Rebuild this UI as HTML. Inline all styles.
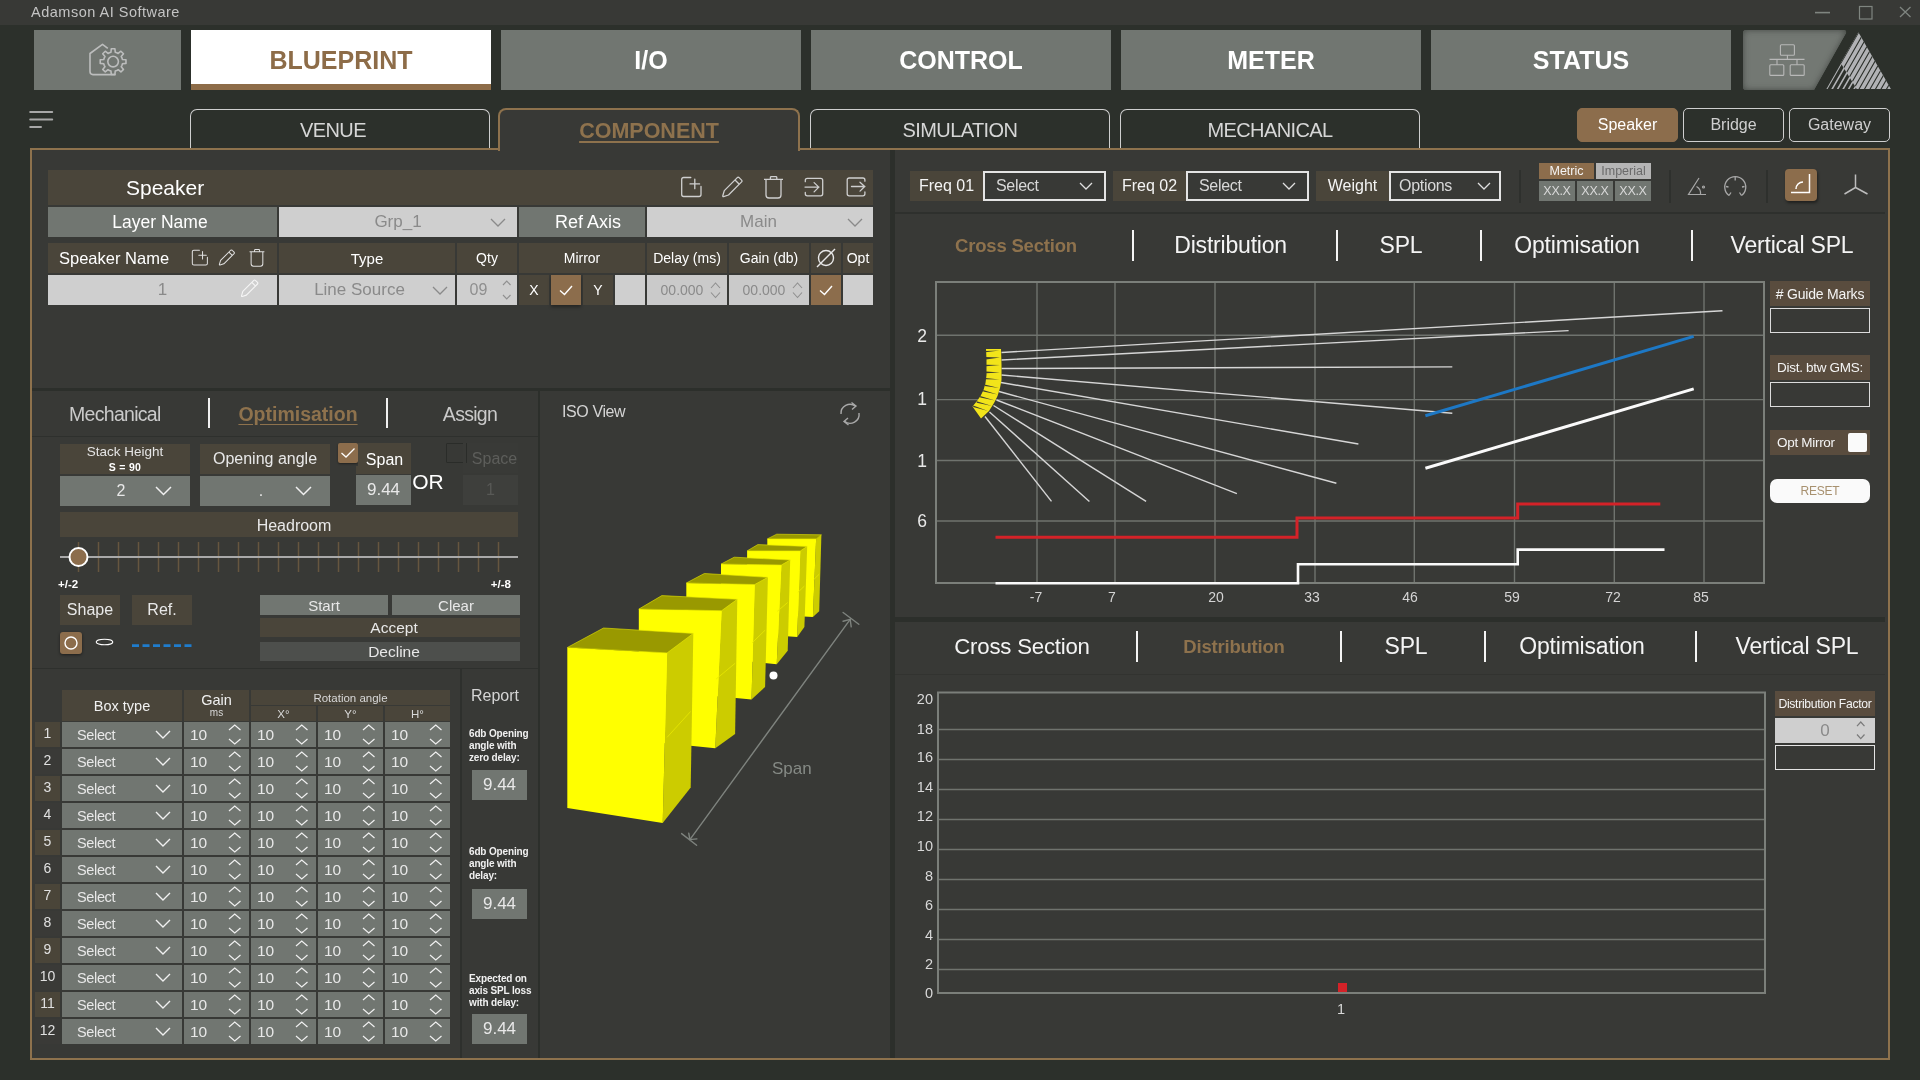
<!DOCTYPE html>
<html><head><meta charset="utf-8">
<style>
*{box-sizing:border-box;margin:0;padding:0}
html,body{width:1920px;height:1080px;overflow:hidden;will-change:transform;background:#2c302b;font-family:"Liberation Sans",Arial,sans-serif;color:#fff}
.a{position:absolute}
.c{position:absolute;display:flex;align-items:center;justify-content:center;white-space:nowrap}
.nav{background:#717671;color:#fff;font-weight:bold;font-size:25px;letter-spacing:0px;top:30px;height:60px;width:300px}
.st{top:109px;height:40px;width:300px;border:1px solid #cfcfcf;border-bottom:none;border-radius:7px 7px 0 0;color:#d6d6d6;font-size:20px;letter-spacing:-0.6px;padding-top:1px}
.pill{top:108px;height:34px;width:101px;border:1px solid #cfcfcf;border-radius:5px;color:#cfcfcf;font-size:16px}
.brn{background:#4a453a}
.gry{background:#717671}
.lgt{background:#d3d3d3}
.pnl{background:#383936}
.dk{background:#2c2f2b}
</style></head><body>
<!-- title bar -->
<div class="a" style="left:0;top:0;width:1920px;height:25px;background:#383936"></div>
<div class="a" style="left:31px;top:3.5px;font-size:14.5px;letter-spacing:0.5px;color:#c4c4c4;line-height:17px">Adamson AI Software</div>
<svg class="a" style="left:1810px;top:0" width="110" height="25">
 <path d="M5 12.6H20" stroke="#7f8580" stroke-width="1.6"/>
 <rect x="49.5" y="6.5" width="12.5" height="12.5" fill="none" stroke="#7f8580" stroke-width="1.2"/>
 <path d="M90 7L100.5 17M100.5 7L90 17" stroke="#7f8580" stroke-width="1.3"/>
</svg>

<!-- nav row -->
<div class="a" style="left:34px;top:30px;width:147px;height:60px;background:#717671"></div>
<svg class="a" style="left:80px;top:35px" width="60" height="50" viewBox="0 0 60 50">
 <g fill="none" stroke="#bcbdbd" stroke-width="1.6" stroke-linejoin="round">
  <path d="M27.8 13.4L22.5 9.3L10 18.5V36.6Q10 39.6 13 39.6H35.6"/>
  <path d="M29.43 17.73L30.94 17.25L31.29 13.73L34.91 13.73L35.26 17.25L36.77 17.73L38.19 18.46L40.92 16.22L43.48 18.78L41.24 21.51L41.97 22.93L42.45 24.44L45.97 24.79L45.97 28.41L42.45 28.76L41.97 30.27L41.24 31.69L43.48 34.42L40.92 36.98L38.19 34.74L36.77 35.47L35.26 35.95L34.91 39.47L31.29 39.47L30.94 35.95L29.43 35.47L28.01 34.74L25.28 36.98L22.72 34.42L24.96 31.69L24.23 30.27L23.75 28.76L20.23 28.41L20.23 24.79L23.75 24.44L24.23 22.93L24.96 21.51L22.72 18.78L25.28 16.22L28.01 18.46Z"/>
  <circle cx="33.1" cy="26.6" r="5.3"/>
 </g>
</svg>
<div class="c nav" style="left:191px;background:#fff;color:#8d6c48">BLUEPRINT</div>
<div class="a" style="left:191px;top:84px;width:300px;height:6px;background:#8d6c48"></div>
<div class="c nav" style="left:501px">I/O</div>
<div class="c nav" style="left:811px">CONTROL</div>
<div class="c nav" style="left:1121px">METER</div>
<div class="c nav" style="left:1431px">STATUS</div>
<!-- network button -->
<svg class="a" style="left:1740px;top:28px" width="160" height="66">
 <defs>
  <filter id="ins" x="-10%" y="-10%" width="120%" height="120%">
   <feGaussianBlur in="SourceAlpha" stdDeviation="3.5" result="b"/>
   <feComposite in="SourceAlpha" in2="b" operator="arithmetic" k2="1" k3="-1" result="sh"/>
   <feFlood flood-color="#2e312e" flood-opacity="0.9"/>
   <feComposite in2="sh" operator="in"/>
   <feComposite in2="SourceGraphic" operator="over"/>
  </filter>
  <clipPath id="cA"><path d="M118.4 4.2L150.9 61.1L116.7 61.1L100.7 35.1Z"/></clipPath>
  <clipPath id="cB"><path d="M100.7 35.1L116.7 61.1L85.8 61.1Z"/></clipPath>
 </defs>
 <path d="M6 2H103Q107.5 2 105.5 6L74 62H6Q3 62 3 59V5Q3 2 6 2Z" fill="#737873" filter="url(#ins)"/>
 <g fill="none" stroke="#b8b8b8" stroke-width="1.1">
  <rect x="40.4" y="16.7" width="14" height="10.6" rx="1"/>
  <path d="M47.4 27.3V31.4M29.5 31.4H64.5M37 31.4V36.8M57 31.4V36.8"/>
  <rect x="29.8" y="36.8" width="14" height="10.6" rx="1"/>
  <rect x="50.2" y="36.8" width="14" height="10.6" rx="1"/>
 </g>
 <path d="M118.4 4.2L150.9 61.1L116.7 61.1L100.7 35.1Z" fill="#b1b2b5"/>
 <path d="M85.80 61.5L124.92 -6.78M91.30 61.5L130.42 -6.78M96.80 61.5L135.92 -6.78M102.30 61.5L141.42 -6.78M107.80 61.5L146.92 -6.78M113.30 61.5L152.42 -6.78M118.80 61.5L157.92 -6.78M124.30 61.5L163.42 -6.78M129.80 61.5L168.92 -6.78M135.30 61.5L174.42 -6.78M140.80 61.5L179.92 -6.78M146.30 61.5L185.42 -6.78M151.80 61.5L190.92 -6.78" clip-path="url(#cA)" stroke="#2c302b" stroke-width="1.1"/>
 <path d="M85.80 61.5L124.92 -6.78M91.30 61.5L130.42 -6.78M96.80 61.5L135.92 -6.78M102.30 61.5L141.42 -6.78M107.80 61.5L146.92 -6.78M113.30 61.5L152.42 -6.78M118.80 61.5L157.92 -6.78M124.30 61.5L163.42 -6.78M129.80 61.5L168.92 -6.78M135.30 61.5L174.42 -6.78M140.80 61.5L179.92 -6.78M146.30 61.5L185.42 -6.78M151.80 61.5L190.92 -6.78" clip-path="url(#cB)" stroke="#b1b2b5" stroke-width="1.6" transform="translate(0.6,0)"/>
</svg>

<!-- hamburger -->
<svg class="a" style="left:28px;top:108px" width="28" height="24">
 <path d="M2.2 4H24.2M2.2 11.5H24.2M2.2 19H13" stroke="#a8a8a8" stroke-width="2" stroke-linecap="round"/>
</svg>

<!-- sub tabs -->
<div class="c st" style="left:190px;padding-right:14px">VENUE</div>
<div class="c st" style="left:810px">SIMULATION</div>
<div class="c st" style="left:1120px">MECHANICAL</div>
<div class="c pill" style="left:1577px;background:#8c6d4c;border-color:#8c6d4c;color:#fff">Speaker</div>
<div class="c pill" style="left:1683px">Bridge</div>
<div class="c pill" style="left:1789px">Gateway</div>

<!-- main panel -->
<div class="a" style="left:30px;top:148px;width:1860px;height:912px;border:2px solid #8e724d;background:#383936"></div>
<!-- active COMPONENT tab -->
<div class="c" style="left:498px;top:108px;width:302px;height:43px;border:2px solid #8e724d;border-bottom:none;border-radius:8px 8px 0 0;background:#383936;color:#8e724d;font-weight:bold;font-size:21.5px;text-decoration:underline;text-underline-offset:3px;padding-top:2px">COMPONENT</div>

<!-- dividers -->
<div class="a dk" style="left:890px;top:150px;width:5px;height:908px"></div>
<div class="a dk" style="left:32px;top:388px;width:858px;height:3px"></div>
<div class="a dk" style="left:538px;top:391px;width:2px;height:667px"></div>
<div class="a dk" style="left:895px;top:617px;width:990px;height:5px"></div>



<div class="a" style="left:48px;top:170px;width:825px;height:35px;background:#4a453a;"></div>
<div class="c" style="left:126px;top:170px;width:174px;height:35px;font-size:21px;color:#fff;font-weight:normal;justify-content:flex-start;">Speaker</div>
<svg class="a" style="left:680px;top:176px;" width="24.00" height="24.00" viewBox="0 0 24 24"><g fill="none" stroke="#cfcfcf" stroke-width="1.3" stroke-linejoin="round" stroke-linecap="round"><path d="M10.8 1.5H3.7Q1.7 1.5 1.7 3.5V18.5Q1.7 20.5 3.7 20.5H19Q21 20.5 21 18.5V10.5"/><path d="M14.8 3.1V12.7M10 7.9H19.6"/></g></svg>
<svg class="a" style="left:721px;top:176px;" width="24.00" height="24.00" viewBox="0 0 24 24"><g fill="none" stroke="#cfcfcf" stroke-width="1.3" stroke-linejoin="round"><path d="M16.3 1.6Q17.2 0.8 18.1 1.6L20.6 4.1Q21.4 5 20.6 5.9L7.5 19L2.6 20.6Q1.6 20.8 1.8 19.8L3.3 14.6Z"/><path d="M14 4L18.3 8.3"/></g></svg>
<svg class="a" style="left:762px;top:176px;" width="24.00" height="24.00" viewBox="0 0 24 24"><g fill="none" stroke="#cfcfcf" stroke-width="1.3" stroke-linejoin="round"><path d="M2 3.4H21M8.4 3.4V1.5Q8.4 0.6 9.4 0.6H13.8Q14.8 0.6 14.8 1.5V3.4M4 3.4V19Q4 22 7 22H16Q19 22 19 19V3.4"/></g></svg>
<svg class="a" style="left:803px;top:176px;" width="24.00" height="24.00" viewBox="0 0 24 24"><g fill="none" stroke="#cfcfcf" stroke-width="1.3" stroke-linejoin="round" stroke-linecap="round"><path d="M2.3 5.7V4.3Q2.3 2.3 4.3 2.3H17.7Q19.7 2.3 19.7 4.3V17.8Q19.7 19.8 17.7 19.8H4.3Q2.3 19.8 2.3 17.8V16.4"/><path d="M2 11.1H16M11.1 6.6L15.8 11.1L11.1 15.9"/></g></svg>
<svg class="a" style="left:845px;top:176px;" width="24.00" height="24.00" viewBox="0 0 24 24"><g fill="none" stroke="#cfcfcf" stroke-width="1.3" stroke-linejoin="round" stroke-linecap="round"><path d="M19.9 5.2V4Q19.9 2 17.9 2H4.2Q2.2 2 2.2 4V17.8Q2.2 19.8 4.2 19.8H17.9Q19.9 19.8 19.9 17.8V15.9"/><path d="M6.5 10.5H19.9M15 6.3L19.7 10.5L15 15.1"/></g></svg>
<div class="a" style="left:48px;top:207px;width:229px;height:30px;background:#717671;"></div>
<div class="c" style="left:48px;top:207px;width:224px;height:30px;font-size:17.5px;color:#fff;font-weight:normal;justify-content:center;">Layer Name</div>
<div class="a" style="left:279px;top:207px;width:238px;height:30px;background:#cfcfcf;"></div>
<div class="c" style="left:279px;top:207px;width:238px;height:30px;font-size:17px;color:#8a8a8a;font-weight:normal;justify-content:center;">Grp_1</div>
<svg class="a" style="left:489.0px;top:216.5px;" width="18.00" height="11.00" viewBox="0 0 18 11.0"><path d="M2 2L9.0 9.0L16 2" fill="none" stroke="#8a8a8a" stroke-width="1.3"/></svg>
<div class="a" style="left:519px;top:207px;width:126px;height:30px;background:#717671;"></div>
<div class="c" style="left:525px;top:207px;width:126px;height:30px;font-size:18px;color:#fff;font-weight:normal;justify-content:center;">Ref Axis</div>
<div class="a" style="left:647px;top:207px;width:226px;height:30px;background:#cfcfcf;"></div>
<div class="c" style="left:647px;top:207px;width:226px;height:30px;font-size:17px;color:#8a8a8a;font-weight:normal;justify-content:center;padding-right:3px">Main</div>
<svg class="a" style="left:846.0px;top:216.5px;" width="18.00" height="11.00" viewBox="0 0 18 11.0"><path d="M2 2L9.0 9.0L16 2" fill="none" stroke="#8a8a8a" stroke-width="1.3"/></svg>
<div class="a" style="left:48px;top:243px;width:229px;height:30px;background:#4a453a;"></div>
<div class="a" style="left:279px;top:243px;width:176px;height:30px;background:#4a453a;"></div>
<div class="a" style="left:457px;top:243px;width:60px;height:30px;background:#4a453a;"></div>
<div class="a" style="left:519px;top:243px;width:126px;height:30px;background:#4a453a;"></div>
<div class="a" style="left:647px;top:243px;width:80px;height:30px;background:#4a453a;"></div>
<div class="a" style="left:729px;top:243px;width:80px;height:30px;background:#4a453a;"></div>
<div class="a" style="left:811px;top:243px;width:30px;height:30px;background:#4a453a;"></div>
<div class="a" style="left:843px;top:243px;width:30px;height:30px;background:#4a453a;"></div>
<div class="c" style="left:59px;top:243px;width:141px;height:30px;font-size:16.5px;color:#fff;font-weight:normal;justify-content:flex-start;">Speaker Name</div>
<svg class="a" style="left:190.5px;top:249px;" width="18.72" height="18.72" viewBox="0 0 24 24"><g fill="none" stroke="#e0e0e0" stroke-width="1.3" stroke-linejoin="round" stroke-linecap="round"><path d="M10.8 1.5H3.7Q1.7 1.5 1.7 3.5V18.5Q1.7 20.5 3.7 20.5H19Q21 20.5 21 18.5V10.5"/><path d="M14.8 3.1V12.7M10 7.9H19.6"/></g></svg>
<svg class="a" style="left:218.3px;top:249px;" width="18.72" height="18.72" viewBox="0 0 24 24"><g fill="none" stroke="#e0e0e0" stroke-width="1.3" stroke-linejoin="round"><path d="M16.3 1.6Q17.2 0.8 18.1 1.6L20.6 4.1Q21.4 5 20.6 5.9L7.5 19L2.6 20.6Q1.6 20.8 1.8 19.8L3.3 14.6Z"/><path d="M14 4L18.3 8.3"/></g></svg>
<svg class="a" style="left:248.3px;top:249.2px;" width="18.72" height="18.72" viewBox="0 0 24 24"><g fill="none" stroke="#e0e0e0" stroke-width="1.3" stroke-linejoin="round"><path d="M2 3.4H21M8.4 3.4V1.5Q8.4 0.6 9.4 0.6H13.8Q14.8 0.6 14.8 1.5V3.4M4 3.4V19Q4 22 7 22H16Q19 22 19 19V3.4"/></g></svg>
<div class="c" style="left:279px;top:243px;width:176px;height:30px;font-size:15px;color:#fff;font-weight:normal;justify-content:center;">Type</div>
<div class="c" style="left:457px;top:243px;width:60px;height:30px;font-size:14px;color:#fff;font-weight:normal;justify-content:center;">Qty</div>
<div class="c" style="left:519px;top:243px;width:126px;height:30px;font-size:14px;color:#fff;font-weight:normal;justify-content:center;">Mirror</div>
<div class="c" style="left:647px;top:243px;width:80px;height:30px;font-size:14px;color:#fff;font-weight:normal;justify-content:center;">Delay (ms)</div>
<div class="c" style="left:729px;top:243px;width:80px;height:30px;font-size:14px;color:#fff;font-weight:normal;justify-content:center;">Gain (db)</div>
<svg class="a" style="left:815px;top:247px;" width="22.00" height="22.00" viewBox="0 0 22 22"><g fill="none" stroke="#e8e8e8" stroke-width="1.4"><circle cx="11" cy="11" r="7.5"/><path d="M2 20L20 2"/></g></svg>
<div class="c" style="left:843px;top:243px;width:30px;height:30px;font-size:14px;color:#fff;font-weight:normal;justify-content:center;">Opt</div>
<div class="a" style="left:48px;top:275px;width:229px;height:30px;background:#cfcfcf;"></div>
<div class="c" style="left:48px;top:275px;width:229px;height:30px;font-size:17px;color:#8a8a8a;font-weight:normal;justify-content:center;">1</div>
<svg class="a" style="left:240px;top:279px;" width="20.40" height="20.40" viewBox="0 0 24 24"><g fill="none" stroke="#f6f6f6" stroke-width="1.3" stroke-linejoin="round"><path d="M16.3 1.6Q17.2 0.8 18.1 1.6L20.6 4.1Q21.4 5 20.6 5.9L7.5 19L2.6 20.6Q1.6 20.8 1.8 19.8L3.3 14.6Z"/><path d="M14 4L18.3 8.3"/></g></svg>
<div class="a" style="left:279px;top:275px;width:176px;height:30px;background:#cfcfcf;"></div>
<div class="c" style="left:279px;top:275px;width:161px;height:30px;font-size:17px;color:#8a8a8a;font-weight:normal;justify-content:center;">Line Source</div>
<svg class="a" style="left:431.0px;top:284.5px;" width="18.00" height="11.00" viewBox="0 0 18 11.0"><path d="M2 2L9.0 9.0L16 2" fill="none" stroke="#8a8a8a" stroke-width="1.3"/></svg>
<div class="a" style="left:457px;top:275px;width:60px;height:30px;background:#cfcfcf;"></div>
<div class="c" style="left:457px;top:275px;width:43px;height:30px;font-size:16px;color:#8f8f8f;font-weight:normal;justify-content:center;">09</div>
<svg class="a" style="left:500.65px;top:279.0px;" width="11.50" height="22.00" viewBox="0 0 11.5 22"><path d="M2 6L5.75 2L9.5 6M2 16L5.75 20L9.5 16" fill="none" stroke="#8f8f8f" stroke-width="1.1"/></svg>
<div class="a" style="left:519px;top:275px;width:30px;height:30px;background:#4a453a;"></div>
<div class="c" style="left:519px;top:275px;width:30px;height:30px;font-size:14px;color:#fff;font-weight:normal;justify-content:center;">X</div>
<div class="a" style="left:551px;top:275px;width:30px;height:30px;background:#8c6d4c;box-shadow:0 2px 3px rgba(0,0,0,0.35)"></div>
<svg class="a" style="left:556px;top:281px;" width="20.00" height="18.00" viewBox="0 0 20 18"><path d="M4 9.5L8.5 13.5L16 5" fill="none" stroke="#fff" stroke-width="1.4"/></svg>
<div class="a" style="left:583px;top:275px;width:30px;height:30px;background:#4a453a;"></div>
<div class="c" style="left:583px;top:275px;width:30px;height:30px;font-size:14px;color:#fff;font-weight:normal;justify-content:center;">Y</div>
<div class="a" style="left:615px;top:275px;width:30px;height:30px;background:#cfcfcf;"></div>
<div class="a" style="left:647px;top:275px;width:80px;height:30px;background:#cacaca;"></div>
<div class="c" style="left:652px;top:275px;width:60px;height:30px;font-size:14px;color:#8a8a8a;font-weight:normal;justify-content:center;">00.000</div>
<svg class="a" style="left:709.3px;top:280.75px;" width="13.00" height="18.50" viewBox="0 0 13 18.5"><path d="M2 7L6.5 2L11 7M2 11.5L6.5 16.5L11 11.5" fill="none" stroke="#8f8f8f" stroke-width="1.1"/></svg>
<div class="a" style="left:729px;top:275px;width:80px;height:30px;background:#cacaca;"></div>
<div class="c" style="left:734px;top:275px;width:60px;height:30px;font-size:14px;color:#8a8a8a;font-weight:normal;justify-content:center;">00.000</div>
<svg class="a" style="left:791.1px;top:280.75px;" width="13.00" height="18.50" viewBox="0 0 13 18.5"><path d="M2 7L6.5 2L11 7M2 11.5L6.5 16.5L11 11.5" fill="none" stroke="#8f8f8f" stroke-width="1.1"/></svg>
<div class="a" style="left:811px;top:275px;width:30px;height:30px;background:#8c6d4c;"></div>
<svg class="a" style="left:816px;top:281px;" width="20.00" height="18.00" viewBox="0 0 20 18"><path d="M4 9.5L8.5 13.5L16 5" fill="none" stroke="#fff" stroke-width="1.4"/></svg>
<div class="a" style="left:843px;top:275px;width:30px;height:30px;background:#cfcfcf;"></div>
<div class="a" style="left:32px;top:436px;width:506px;height:1px;background:#2e302d;"></div>
<div class="c" style="left:60px;top:391px;width:110px;height:45px;font-size:19.5px;color:#cacaca;font-weight:normal;justify-content:flex-start;padding-left:9px;padding-top:2px;letter-spacing:-0.7px">Mechanical</div>
<div class="a" style="left:208px;top:398px;width:2px;height:30px;background:#f0f0f0;"></div>
<div class="c" style="left:210px;top:391px;width:176px;height:45px;font-size:19.5px;color:#8e724d;font-weight:bold;justify-content:center;text-decoration:underline;text-underline-offset:3px;padding-top:2px">Optimisation</div>
<div class="a" style="left:386px;top:398px;width:2px;height:30px;background:#f0f0f0;"></div>
<div class="c" style="left:395px;top:391px;width:150px;height:45px;font-size:19.5px;color:#cacaca;font-weight:normal;justify-content:center;padding-top:2px;letter-spacing:-0.7px">Assign</div>
<div class="a" style="left:60px;top:444px;width:130px;height:30px;background:#4a453a;"></div>
<div class="a" style="left:60px;top:445px;width:130px;text-align:center;font-size:13.5px;line-height:14px;color:#e4e4e4">Stack Height</div>
<div class="a" style="left:60px;top:462px;width:130px;text-align:center;letter-spacing:0.3px;font-size:10.5px;line-height:10px;color:#fff;font-weight:bold">S = 90</div>
<div class="a" style="left:60px;top:476px;width:130px;height:30px;background:#717671;"></div>
<div class="c" style="left:60px;top:476px;width:122px;height:30px;font-size:16px;color:#e8e8e8;font-weight:normal;justify-content:center;">2</div>
<svg class="a" style="left:153.5px;top:485.25px;" width="19.00" height="11.50" viewBox="0 0 19 11.5"><path d="M2 2L9.5 9.5L17 2" fill="none" stroke="#f0f0f0" stroke-width="1.5"/></svg>
<div class="a" style="left:200px;top:444px;width:130px;height:30px;background:#4a453a;"></div>
<div class="c" style="left:200px;top:444px;width:130px;height:30px;font-size:16px;color:#e8e8e8;font-weight:normal;justify-content:center;">Opening angle</div>
<div class="a" style="left:200px;top:476px;width:130px;height:30px;background:#717671;"></div>
<div class="c" style="left:200px;top:476px;width:122px;height:30px;font-size:16px;color:#e8e8e8;font-weight:normal;justify-content:center;">.</div>
<svg class="a" style="left:293.5px;top:485.25px;" width="19.00" height="11.50" viewBox="0 0 19 11.5"><path d="M2 2L9.5 9.5L17 2" fill="none" stroke="#f0f0f0" stroke-width="1.5"/></svg>
<div class="a" style="left:338px;top:443px;width:20px;height:20px;background:#8c6d4c;border-radius:2px;box-shadow:0 1px 2px rgba(0,0,0,0.4)"></div>
<svg class="a" style="left:338px;top:443px;" width="20.00" height="20.00" viewBox="0 0 20 20"><path d="M3.5 10L8 14L16.5 5.5" fill="none" stroke="#fff" stroke-width="1.3"/></svg>
<div class="a" style="left:356px;top:466px;width:55px;height:8px;background:#4a453a;"></div>
<div class="a" style="left:358px;top:443px;width:53px;height:31px;background:#4a453a;"></div>
<div class="c" style="left:358px;top:443px;width:53px;height:31px;font-size:16px;color:#fff;font-weight:normal;justify-content:center;padding-top:2px">Span</div>
<div class="a" style="left:356px;top:475px;width:55px;height:30px;background:#717671;"></div>
<div class="c" style="left:356px;top:475px;width:55px;height:30px;font-size:17px;color:#e8e8e8;font-weight:normal;justify-content:center;">9.44</div>
<div class="c" style="left:412px;top:474px;width:32px;height:16px;font-size:21px;color:#fff;font-weight:normal;justify-content:center;">OR</div>
<div class="a" style="left:446px;top:443px;width:20px;height:20px;background:none;border:1.3px solid #2a2c29;border-radius:1px"></div>
<div class="a" style="left:463px;top:443px;width:55px;height:30px;background:#393a37;"></div>
<div class="c" style="left:467px;top:443px;width:55px;height:30px;font-size:16px;color:#5d5e5b;font-weight:normal;justify-content:center;padding-top:2px">Space</div>
<div class="a" style="left:466px;top:443px;width:1px;height:20px;background:#2a2c29;"></div>
<div class="a" style="left:463px;top:475px;width:55px;height:30px;background:#3e3f3c;"></div>
<div class="c" style="left:463px;top:475px;width:55px;height:30px;font-size:16px;color:#585956;font-weight:normal;justify-content:center;">1</div>
<div class="a" style="left:60px;top:512px;width:458px;height:25px;background:#4a453a;"></div>
<div class="c" style="left:65px;top:513px;width:458px;height:25px;font-size:16px;color:#e8e8e8;font-weight:normal;justify-content:center;">Headroom</div>
<svg class="a" style="left:60px;top:542px;" width="460.00" height="30.00" viewBox="0 0 460 30"><g stroke="#66563f" stroke-width="1.5"><path d="M18.5 0V30"/><path d="M38.5 0V30"/><path d="M58.5 0V30"/><path d="M78.5 0V30"/><path d="M98.5 0V30"/><path d="M118.5 0V30"/><path d="M138.5 0V30"/><path d="M158.5 0V30"/><path d="M178.5 0V30"/><path d="M198.5 0V30"/><path d="M218.5 0V30"/><path d="M238.5 0V30"/><path d="M258.5 0V30"/><path d="M278.5 0V30"/><path d="M298.5 0V30"/><path d="M318.5 0V30"/><path d="M338.5 0V30"/><path d="M358.5 0V30"/><path d="M378.5 0V30"/><path d="M398.5 0V30"/><path d="M418.5 0V30"/><path d="M438.5 0V30"/></g></svg>
<div class="a" style="left:60px;top:556px;width:458px;height:2px;background:#a9a9a9;"></div>
<svg class="a" style="left:67px;top:546px;" width="24.00" height="24.00" viewBox="0 0 24 24"><circle cx="11.5" cy="11" r="9" fill="#8c6d4c" stroke="#fff" stroke-width="2"/></svg>
<div class="a" style="left:58px;top:578px;font-size:11.5px;font-weight:bold;line-height:12px;color:#fff">+/-2</div>
<div class="a" style="left:476px;top:578px;width:35px;text-align:right;font-size:11.5px;font-weight:bold;line-height:12px;color:#fff">+/-8</div>
<div class="a" style="left:60px;top:595px;width:60px;height:30px;background:#4a453a;"></div>
<div class="c" style="left:60px;top:595px;width:60px;height:30px;font-size:16px;color:#e8e8e8;font-weight:normal;justify-content:center;">Shape</div>
<div class="a" style="left:132px;top:595px;width:60px;height:30px;background:#4a453a;"></div>
<div class="c" style="left:132px;top:595px;width:60px;height:30px;font-size:16px;color:#e8e8e8;font-weight:normal;justify-content:center;">Ref.</div>
<div class="a" style="left:60px;top:632px;width:22px;height:22px;background:#8c6d4c;border-radius:3px;box-shadow:0 1px 3px rgba(0,0,0,0.5)"></div>
<svg class="a" style="left:60px;top:632px;" width="22.00" height="22.00" viewBox="0 0 22 22"><circle cx="11" cy="11" r="6" fill="none" stroke="#fff" stroke-width="1.4"/></svg>
<svg class="a" style="left:94px;top:637px;" width="22.00" height="10.00" viewBox="0 0 22 10"><ellipse cx="10.5" cy="5" rx="8.3" ry="2.8" fill="none" stroke="#fff" stroke-width="1.1"/></svg>
<svg class="a" style="left:131px;top:643px;" width="62.00" height="6.00" viewBox="0 0 62 6"><path d="M1 2.6H61" stroke="#1f7ccc" stroke-width="2.6" stroke-dasharray="7 3.5"/></svg>
<div class="a" style="left:260px;top:595px;width:128px;height:20px;background:#717671;"></div>
<div class="c" style="left:260px;top:595px;width:128px;height:20px;font-size:15px;color:#e8e8e8;font-weight:normal;justify-content:center;">Start</div>
<div class="a" style="left:392px;top:595px;width:128px;height:20px;background:#717671;"></div>
<div class="c" style="left:392px;top:595px;width:128px;height:20px;font-size:15px;color:#e8e8e8;font-weight:normal;justify-content:center;">Clear</div>
<div class="a" style="left:260px;top:618px;width:260px;height:19px;background:#4a453a;"></div>
<div class="c" style="left:264px;top:618px;width:260px;height:19px;font-size:15.5px;color:#e8e8e8;font-weight:normal;justify-content:center;">Accept</div>
<div class="a" style="left:260px;top:642px;width:260px;height:19px;background:#4d4f4c;"></div>
<div class="c" style="left:264px;top:642px;width:260px;height:19px;font-size:15.5px;color:#e8e8e8;font-weight:normal;justify-content:center;">Decline</div>
<div class="a" style="left:32px;top:668px;width:506px;height:1px;background:#2e302d;"></div>
<div class="a" style="left:460px;top:669px;width:2px;height:389px;background:#2e302d;"></div>
<div class="a" style="left:62px;top:690px;width:120px;height:31px;background:#4a453a;"></div>
<div class="c" style="left:62px;top:690px;width:120px;height:31px;font-size:14.5px;color:#f0f0f0;font-weight:normal;justify-content:center;">Box type</div>
<div class="a" style="left:184px;top:690px;width:65px;height:31px;background:#4a453a;"></div>
<div class="a" style="left:184px;top:692px;width:65px;text-align:center;font-size:14.5px;line-height:16px;color:#f0f0f0">Gain</div>
<div class="a" style="left:184px;top:707px;width:65px;text-align:center;font-size:10px;line-height:11px;color:#d8d8d8">ms</div>
<div class="a" style="left:251px;top:690px;width:199px;height:15px;background:#4a453a;"></div>
<div class="c" style="left:251px;top:690px;width:199px;height:15px;font-size:11.5px;color:#d8d8d8;font-weight:normal;justify-content:center;">Rotation angle</div>
<div class="a" style="left:251px;top:706px;width:65px;height:15px;background:#4a453a;"></div>
<div class="c" style="left:251px;top:706px;width:65px;height:15px;font-size:11.5px;color:#d8d8d8;font-weight:normal;justify-content:center;">X°</div>
<div class="a" style="left:318px;top:706px;width:65px;height:15px;background:#4a453a;"></div>
<div class="c" style="left:318px;top:706px;width:65px;height:15px;font-size:11.5px;color:#d8d8d8;font-weight:normal;justify-content:center;">Y°</div>
<div class="a" style="left:385px;top:706px;width:65px;height:15px;background:#4a453a;"></div>
<div class="c" style="left:385px;top:706px;width:65px;height:15px;font-size:11.5px;color:#d8d8d8;font-weight:normal;justify-content:center;">H°</div>
<div class="a" style="left:35px;top:722px;width:25px;height:25px;background:#4a4539;"></div>
<div class="c" style="left:35px;top:722px;width:25px;height:21px;font-size:14px;color:#e0e0e0;font-weight:normal;justify-content:center;">1</div>
<div class="a" style="left:62px;top:722px;width:120px;height:25px;background:#717671;"></div>
<div class="c" style="left:77px;top:722px;width:83px;height:25px;font-size:14.5px;color:#e8e8e8;font-weight:normal;justify-content:flex-start;letter-spacing:-0.35px">Select</div>
<svg class="a" style="left:154.0px;top:729.0px;" width="18.00" height="11.00" viewBox="0 0 18 11.0"><path d="M2 2L9.0 9.0L16 2" fill="none" stroke="#f0f0f0" stroke-width="1.4"/></svg>
<div class="a" style="left:184px;top:722px;width:65px;height:25px;background:#717671;"></div>
<div class="c" style="left:190px;top:722px;width:34px;height:25px;font-size:15.5px;color:#e8e8e8;font-weight:normal;justify-content:flex-start;">10</div>
<svg class="a" style="left:227.25px;top:723.0px;" width="15.50" height="23.00" viewBox="0 0 15.5 23"><path d="M2 7L7.75 2L13.5 7M2 16L7.75 21L13.5 16" fill="none" stroke="#f0f0f0" stroke-width="1.2"/></svg>
<div class="a" style="left:251px;top:722px;width:65px;height:25px;background:#717671;"></div>
<div class="c" style="left:257px;top:722px;width:34px;height:25px;font-size:15.5px;color:#e8e8e8;font-weight:normal;justify-content:flex-start;">10</div>
<svg class="a" style="left:294.25px;top:723.0px;" width="15.50" height="23.00" viewBox="0 0 15.5 23"><path d="M2 7L7.75 2L13.5 7M2 16L7.75 21L13.5 16" fill="none" stroke="#f0f0f0" stroke-width="1.2"/></svg>
<div class="a" style="left:318px;top:722px;width:65px;height:25px;background:#717671;"></div>
<div class="c" style="left:324px;top:722px;width:34px;height:25px;font-size:15.5px;color:#e8e8e8;font-weight:normal;justify-content:flex-start;">10</div>
<svg class="a" style="left:361.25px;top:723.0px;" width="15.50" height="23.00" viewBox="0 0 15.5 23"><path d="M2 7L7.75 2L13.5 7M2 16L7.75 21L13.5 16" fill="none" stroke="#f0f0f0" stroke-width="1.2"/></svg>
<div class="a" style="left:385px;top:722px;width:65px;height:25px;background:#717671;"></div>
<div class="c" style="left:391px;top:722px;width:34px;height:25px;font-size:15.5px;color:#e8e8e8;font-weight:normal;justify-content:flex-start;">10</div>
<svg class="a" style="left:428.25px;top:723.0px;" width="15.50" height="23.00" viewBox="0 0 15.5 23"><path d="M2 7L7.75 2L13.5 7M2 16L7.75 21L13.5 16" fill="none" stroke="#f0f0f0" stroke-width="1.2"/></svg>
<div class="a" style="left:35px;top:749px;width:25px;height:25px;background:#3a3a37;"></div>
<div class="c" style="left:35px;top:749px;width:25px;height:21px;font-size:14px;color:#e0e0e0;font-weight:normal;justify-content:center;">2</div>
<div class="a" style="left:62px;top:749px;width:120px;height:25px;background:#717671;"></div>
<div class="c" style="left:77px;top:749px;width:83px;height:25px;font-size:14.5px;color:#e8e8e8;font-weight:normal;justify-content:flex-start;letter-spacing:-0.35px">Select</div>
<svg class="a" style="left:154.0px;top:756.0px;" width="18.00" height="11.00" viewBox="0 0 18 11.0"><path d="M2 2L9.0 9.0L16 2" fill="none" stroke="#f0f0f0" stroke-width="1.4"/></svg>
<div class="a" style="left:184px;top:749px;width:65px;height:25px;background:#717671;"></div>
<div class="c" style="left:190px;top:749px;width:34px;height:25px;font-size:15.5px;color:#e8e8e8;font-weight:normal;justify-content:flex-start;">10</div>
<svg class="a" style="left:227.25px;top:750.0px;" width="15.50" height="23.00" viewBox="0 0 15.5 23"><path d="M2 7L7.75 2L13.5 7M2 16L7.75 21L13.5 16" fill="none" stroke="#f0f0f0" stroke-width="1.2"/></svg>
<div class="a" style="left:251px;top:749px;width:65px;height:25px;background:#717671;"></div>
<div class="c" style="left:257px;top:749px;width:34px;height:25px;font-size:15.5px;color:#e8e8e8;font-weight:normal;justify-content:flex-start;">10</div>
<svg class="a" style="left:294.25px;top:750.0px;" width="15.50" height="23.00" viewBox="0 0 15.5 23"><path d="M2 7L7.75 2L13.5 7M2 16L7.75 21L13.5 16" fill="none" stroke="#f0f0f0" stroke-width="1.2"/></svg>
<div class="a" style="left:318px;top:749px;width:65px;height:25px;background:#717671;"></div>
<div class="c" style="left:324px;top:749px;width:34px;height:25px;font-size:15.5px;color:#e8e8e8;font-weight:normal;justify-content:flex-start;">10</div>
<svg class="a" style="left:361.25px;top:750.0px;" width="15.50" height="23.00" viewBox="0 0 15.5 23"><path d="M2 7L7.75 2L13.5 7M2 16L7.75 21L13.5 16" fill="none" stroke="#f0f0f0" stroke-width="1.2"/></svg>
<div class="a" style="left:385px;top:749px;width:65px;height:25px;background:#717671;"></div>
<div class="c" style="left:391px;top:749px;width:34px;height:25px;font-size:15.5px;color:#e8e8e8;font-weight:normal;justify-content:flex-start;">10</div>
<svg class="a" style="left:428.25px;top:750.0px;" width="15.50" height="23.00" viewBox="0 0 15.5 23"><path d="M2 7L7.75 2L13.5 7M2 16L7.75 21L13.5 16" fill="none" stroke="#f0f0f0" stroke-width="1.2"/></svg>
<div class="a" style="left:35px;top:776px;width:25px;height:25px;background:#4a4539;"></div>
<div class="c" style="left:35px;top:776px;width:25px;height:21px;font-size:14px;color:#e0e0e0;font-weight:normal;justify-content:center;">3</div>
<div class="a" style="left:62px;top:776px;width:120px;height:25px;background:#717671;"></div>
<div class="c" style="left:77px;top:776px;width:83px;height:25px;font-size:14.5px;color:#e8e8e8;font-weight:normal;justify-content:flex-start;letter-spacing:-0.35px">Select</div>
<svg class="a" style="left:154.0px;top:783.0px;" width="18.00" height="11.00" viewBox="0 0 18 11.0"><path d="M2 2L9.0 9.0L16 2" fill="none" stroke="#f0f0f0" stroke-width="1.4"/></svg>
<div class="a" style="left:184px;top:776px;width:65px;height:25px;background:#717671;"></div>
<div class="c" style="left:190px;top:776px;width:34px;height:25px;font-size:15.5px;color:#e8e8e8;font-weight:normal;justify-content:flex-start;">10</div>
<svg class="a" style="left:227.25px;top:777.0px;" width="15.50" height="23.00" viewBox="0 0 15.5 23"><path d="M2 7L7.75 2L13.5 7M2 16L7.75 21L13.5 16" fill="none" stroke="#f0f0f0" stroke-width="1.2"/></svg>
<div class="a" style="left:251px;top:776px;width:65px;height:25px;background:#717671;"></div>
<div class="c" style="left:257px;top:776px;width:34px;height:25px;font-size:15.5px;color:#e8e8e8;font-weight:normal;justify-content:flex-start;">10</div>
<svg class="a" style="left:294.25px;top:777.0px;" width="15.50" height="23.00" viewBox="0 0 15.5 23"><path d="M2 7L7.75 2L13.5 7M2 16L7.75 21L13.5 16" fill="none" stroke="#f0f0f0" stroke-width="1.2"/></svg>
<div class="a" style="left:318px;top:776px;width:65px;height:25px;background:#717671;"></div>
<div class="c" style="left:324px;top:776px;width:34px;height:25px;font-size:15.5px;color:#e8e8e8;font-weight:normal;justify-content:flex-start;">10</div>
<svg class="a" style="left:361.25px;top:777.0px;" width="15.50" height="23.00" viewBox="0 0 15.5 23"><path d="M2 7L7.75 2L13.5 7M2 16L7.75 21L13.5 16" fill="none" stroke="#f0f0f0" stroke-width="1.2"/></svg>
<div class="a" style="left:385px;top:776px;width:65px;height:25px;background:#717671;"></div>
<div class="c" style="left:391px;top:776px;width:34px;height:25px;font-size:15.5px;color:#e8e8e8;font-weight:normal;justify-content:flex-start;">10</div>
<svg class="a" style="left:428.25px;top:777.0px;" width="15.50" height="23.00" viewBox="0 0 15.5 23"><path d="M2 7L7.75 2L13.5 7M2 16L7.75 21L13.5 16" fill="none" stroke="#f0f0f0" stroke-width="1.2"/></svg>
<div class="a" style="left:35px;top:803px;width:25px;height:25px;background:#3a3a37;"></div>
<div class="c" style="left:35px;top:803px;width:25px;height:21px;font-size:14px;color:#e0e0e0;font-weight:normal;justify-content:center;">4</div>
<div class="a" style="left:62px;top:803px;width:120px;height:25px;background:#717671;"></div>
<div class="c" style="left:77px;top:803px;width:83px;height:25px;font-size:14.5px;color:#e8e8e8;font-weight:normal;justify-content:flex-start;letter-spacing:-0.35px">Select</div>
<svg class="a" style="left:154.0px;top:810.0px;" width="18.00" height="11.00" viewBox="0 0 18 11.0"><path d="M2 2L9.0 9.0L16 2" fill="none" stroke="#f0f0f0" stroke-width="1.4"/></svg>
<div class="a" style="left:184px;top:803px;width:65px;height:25px;background:#717671;"></div>
<div class="c" style="left:190px;top:803px;width:34px;height:25px;font-size:15.5px;color:#e8e8e8;font-weight:normal;justify-content:flex-start;">10</div>
<svg class="a" style="left:227.25px;top:804.0px;" width="15.50" height="23.00" viewBox="0 0 15.5 23"><path d="M2 7L7.75 2L13.5 7M2 16L7.75 21L13.5 16" fill="none" stroke="#f0f0f0" stroke-width="1.2"/></svg>
<div class="a" style="left:251px;top:803px;width:65px;height:25px;background:#717671;"></div>
<div class="c" style="left:257px;top:803px;width:34px;height:25px;font-size:15.5px;color:#e8e8e8;font-weight:normal;justify-content:flex-start;">10</div>
<svg class="a" style="left:294.25px;top:804.0px;" width="15.50" height="23.00" viewBox="0 0 15.5 23"><path d="M2 7L7.75 2L13.5 7M2 16L7.75 21L13.5 16" fill="none" stroke="#f0f0f0" stroke-width="1.2"/></svg>
<div class="a" style="left:318px;top:803px;width:65px;height:25px;background:#717671;"></div>
<div class="c" style="left:324px;top:803px;width:34px;height:25px;font-size:15.5px;color:#e8e8e8;font-weight:normal;justify-content:flex-start;">10</div>
<svg class="a" style="left:361.25px;top:804.0px;" width="15.50" height="23.00" viewBox="0 0 15.5 23"><path d="M2 7L7.75 2L13.5 7M2 16L7.75 21L13.5 16" fill="none" stroke="#f0f0f0" stroke-width="1.2"/></svg>
<div class="a" style="left:385px;top:803px;width:65px;height:25px;background:#717671;"></div>
<div class="c" style="left:391px;top:803px;width:34px;height:25px;font-size:15.5px;color:#e8e8e8;font-weight:normal;justify-content:flex-start;">10</div>
<svg class="a" style="left:428.25px;top:804.0px;" width="15.50" height="23.00" viewBox="0 0 15.5 23"><path d="M2 7L7.75 2L13.5 7M2 16L7.75 21L13.5 16" fill="none" stroke="#f0f0f0" stroke-width="1.2"/></svg>
<div class="a" style="left:35px;top:830px;width:25px;height:25px;background:#4a4539;"></div>
<div class="c" style="left:35px;top:830px;width:25px;height:21px;font-size:14px;color:#e0e0e0;font-weight:normal;justify-content:center;">5</div>
<div class="a" style="left:62px;top:830px;width:120px;height:25px;background:#717671;"></div>
<div class="c" style="left:77px;top:830px;width:83px;height:25px;font-size:14.5px;color:#e8e8e8;font-weight:normal;justify-content:flex-start;letter-spacing:-0.35px">Select</div>
<svg class="a" style="left:154.0px;top:837.0px;" width="18.00" height="11.00" viewBox="0 0 18 11.0"><path d="M2 2L9.0 9.0L16 2" fill="none" stroke="#f0f0f0" stroke-width="1.4"/></svg>
<div class="a" style="left:184px;top:830px;width:65px;height:25px;background:#717671;"></div>
<div class="c" style="left:190px;top:830px;width:34px;height:25px;font-size:15.5px;color:#e8e8e8;font-weight:normal;justify-content:flex-start;">10</div>
<svg class="a" style="left:227.25px;top:831.0px;" width="15.50" height="23.00" viewBox="0 0 15.5 23"><path d="M2 7L7.75 2L13.5 7M2 16L7.75 21L13.5 16" fill="none" stroke="#f0f0f0" stroke-width="1.2"/></svg>
<div class="a" style="left:251px;top:830px;width:65px;height:25px;background:#717671;"></div>
<div class="c" style="left:257px;top:830px;width:34px;height:25px;font-size:15.5px;color:#e8e8e8;font-weight:normal;justify-content:flex-start;">10</div>
<svg class="a" style="left:294.25px;top:831.0px;" width="15.50" height="23.00" viewBox="0 0 15.5 23"><path d="M2 7L7.75 2L13.5 7M2 16L7.75 21L13.5 16" fill="none" stroke="#f0f0f0" stroke-width="1.2"/></svg>
<div class="a" style="left:318px;top:830px;width:65px;height:25px;background:#717671;"></div>
<div class="c" style="left:324px;top:830px;width:34px;height:25px;font-size:15.5px;color:#e8e8e8;font-weight:normal;justify-content:flex-start;">10</div>
<svg class="a" style="left:361.25px;top:831.0px;" width="15.50" height="23.00" viewBox="0 0 15.5 23"><path d="M2 7L7.75 2L13.5 7M2 16L7.75 21L13.5 16" fill="none" stroke="#f0f0f0" stroke-width="1.2"/></svg>
<div class="a" style="left:385px;top:830px;width:65px;height:25px;background:#717671;"></div>
<div class="c" style="left:391px;top:830px;width:34px;height:25px;font-size:15.5px;color:#e8e8e8;font-weight:normal;justify-content:flex-start;">10</div>
<svg class="a" style="left:428.25px;top:831.0px;" width="15.50" height="23.00" viewBox="0 0 15.5 23"><path d="M2 7L7.75 2L13.5 7M2 16L7.75 21L13.5 16" fill="none" stroke="#f0f0f0" stroke-width="1.2"/></svg>
<div class="a" style="left:35px;top:857px;width:25px;height:25px;background:#3a3a37;"></div>
<div class="c" style="left:35px;top:857px;width:25px;height:21px;font-size:14px;color:#e0e0e0;font-weight:normal;justify-content:center;">6</div>
<div class="a" style="left:62px;top:857px;width:120px;height:25px;background:#717671;"></div>
<div class="c" style="left:77px;top:857px;width:83px;height:25px;font-size:14.5px;color:#e8e8e8;font-weight:normal;justify-content:flex-start;letter-spacing:-0.35px">Select</div>
<svg class="a" style="left:154.0px;top:864.0px;" width="18.00" height="11.00" viewBox="0 0 18 11.0"><path d="M2 2L9.0 9.0L16 2" fill="none" stroke="#f0f0f0" stroke-width="1.4"/></svg>
<div class="a" style="left:184px;top:857px;width:65px;height:25px;background:#717671;"></div>
<div class="c" style="left:190px;top:857px;width:34px;height:25px;font-size:15.5px;color:#e8e8e8;font-weight:normal;justify-content:flex-start;">10</div>
<svg class="a" style="left:227.25px;top:858.0px;" width="15.50" height="23.00" viewBox="0 0 15.5 23"><path d="M2 7L7.75 2L13.5 7M2 16L7.75 21L13.5 16" fill="none" stroke="#f0f0f0" stroke-width="1.2"/></svg>
<div class="a" style="left:251px;top:857px;width:65px;height:25px;background:#717671;"></div>
<div class="c" style="left:257px;top:857px;width:34px;height:25px;font-size:15.5px;color:#e8e8e8;font-weight:normal;justify-content:flex-start;">10</div>
<svg class="a" style="left:294.25px;top:858.0px;" width="15.50" height="23.00" viewBox="0 0 15.5 23"><path d="M2 7L7.75 2L13.5 7M2 16L7.75 21L13.5 16" fill="none" stroke="#f0f0f0" stroke-width="1.2"/></svg>
<div class="a" style="left:318px;top:857px;width:65px;height:25px;background:#717671;"></div>
<div class="c" style="left:324px;top:857px;width:34px;height:25px;font-size:15.5px;color:#e8e8e8;font-weight:normal;justify-content:flex-start;">10</div>
<svg class="a" style="left:361.25px;top:858.0px;" width="15.50" height="23.00" viewBox="0 0 15.5 23"><path d="M2 7L7.75 2L13.5 7M2 16L7.75 21L13.5 16" fill="none" stroke="#f0f0f0" stroke-width="1.2"/></svg>
<div class="a" style="left:385px;top:857px;width:65px;height:25px;background:#717671;"></div>
<div class="c" style="left:391px;top:857px;width:34px;height:25px;font-size:15.5px;color:#e8e8e8;font-weight:normal;justify-content:flex-start;">10</div>
<svg class="a" style="left:428.25px;top:858.0px;" width="15.50" height="23.00" viewBox="0 0 15.5 23"><path d="M2 7L7.75 2L13.5 7M2 16L7.75 21L13.5 16" fill="none" stroke="#f0f0f0" stroke-width="1.2"/></svg>
<div class="a" style="left:35px;top:884px;width:25px;height:25px;background:#4a4539;"></div>
<div class="c" style="left:35px;top:884px;width:25px;height:21px;font-size:14px;color:#e0e0e0;font-weight:normal;justify-content:center;">7</div>
<div class="a" style="left:62px;top:884px;width:120px;height:25px;background:#717671;"></div>
<div class="c" style="left:77px;top:884px;width:83px;height:25px;font-size:14.5px;color:#e8e8e8;font-weight:normal;justify-content:flex-start;letter-spacing:-0.35px">Select</div>
<svg class="a" style="left:154.0px;top:891.0px;" width="18.00" height="11.00" viewBox="0 0 18 11.0"><path d="M2 2L9.0 9.0L16 2" fill="none" stroke="#f0f0f0" stroke-width="1.4"/></svg>
<div class="a" style="left:184px;top:884px;width:65px;height:25px;background:#717671;"></div>
<div class="c" style="left:190px;top:884px;width:34px;height:25px;font-size:15.5px;color:#e8e8e8;font-weight:normal;justify-content:flex-start;">10</div>
<svg class="a" style="left:227.25px;top:885.0px;" width="15.50" height="23.00" viewBox="0 0 15.5 23"><path d="M2 7L7.75 2L13.5 7M2 16L7.75 21L13.5 16" fill="none" stroke="#f0f0f0" stroke-width="1.2"/></svg>
<div class="a" style="left:251px;top:884px;width:65px;height:25px;background:#717671;"></div>
<div class="c" style="left:257px;top:884px;width:34px;height:25px;font-size:15.5px;color:#e8e8e8;font-weight:normal;justify-content:flex-start;">10</div>
<svg class="a" style="left:294.25px;top:885.0px;" width="15.50" height="23.00" viewBox="0 0 15.5 23"><path d="M2 7L7.75 2L13.5 7M2 16L7.75 21L13.5 16" fill="none" stroke="#f0f0f0" stroke-width="1.2"/></svg>
<div class="a" style="left:318px;top:884px;width:65px;height:25px;background:#717671;"></div>
<div class="c" style="left:324px;top:884px;width:34px;height:25px;font-size:15.5px;color:#e8e8e8;font-weight:normal;justify-content:flex-start;">10</div>
<svg class="a" style="left:361.25px;top:885.0px;" width="15.50" height="23.00" viewBox="0 0 15.5 23"><path d="M2 7L7.75 2L13.5 7M2 16L7.75 21L13.5 16" fill="none" stroke="#f0f0f0" stroke-width="1.2"/></svg>
<div class="a" style="left:385px;top:884px;width:65px;height:25px;background:#717671;"></div>
<div class="c" style="left:391px;top:884px;width:34px;height:25px;font-size:15.5px;color:#e8e8e8;font-weight:normal;justify-content:flex-start;">10</div>
<svg class="a" style="left:428.25px;top:885.0px;" width="15.50" height="23.00" viewBox="0 0 15.5 23"><path d="M2 7L7.75 2L13.5 7M2 16L7.75 21L13.5 16" fill="none" stroke="#f0f0f0" stroke-width="1.2"/></svg>
<div class="a" style="left:35px;top:911px;width:25px;height:25px;background:#3a3a37;"></div>
<div class="c" style="left:35px;top:911px;width:25px;height:21px;font-size:14px;color:#e0e0e0;font-weight:normal;justify-content:center;">8</div>
<div class="a" style="left:62px;top:911px;width:120px;height:25px;background:#717671;"></div>
<div class="c" style="left:77px;top:911px;width:83px;height:25px;font-size:14.5px;color:#e8e8e8;font-weight:normal;justify-content:flex-start;letter-spacing:-0.35px">Select</div>
<svg class="a" style="left:154.0px;top:918.0px;" width="18.00" height="11.00" viewBox="0 0 18 11.0"><path d="M2 2L9.0 9.0L16 2" fill="none" stroke="#f0f0f0" stroke-width="1.4"/></svg>
<div class="a" style="left:184px;top:911px;width:65px;height:25px;background:#717671;"></div>
<div class="c" style="left:190px;top:911px;width:34px;height:25px;font-size:15.5px;color:#e8e8e8;font-weight:normal;justify-content:flex-start;">10</div>
<svg class="a" style="left:227.25px;top:912.0px;" width="15.50" height="23.00" viewBox="0 0 15.5 23"><path d="M2 7L7.75 2L13.5 7M2 16L7.75 21L13.5 16" fill="none" stroke="#f0f0f0" stroke-width="1.2"/></svg>
<div class="a" style="left:251px;top:911px;width:65px;height:25px;background:#717671;"></div>
<div class="c" style="left:257px;top:911px;width:34px;height:25px;font-size:15.5px;color:#e8e8e8;font-weight:normal;justify-content:flex-start;">10</div>
<svg class="a" style="left:294.25px;top:912.0px;" width="15.50" height="23.00" viewBox="0 0 15.5 23"><path d="M2 7L7.75 2L13.5 7M2 16L7.75 21L13.5 16" fill="none" stroke="#f0f0f0" stroke-width="1.2"/></svg>
<div class="a" style="left:318px;top:911px;width:65px;height:25px;background:#717671;"></div>
<div class="c" style="left:324px;top:911px;width:34px;height:25px;font-size:15.5px;color:#e8e8e8;font-weight:normal;justify-content:flex-start;">10</div>
<svg class="a" style="left:361.25px;top:912.0px;" width="15.50" height="23.00" viewBox="0 0 15.5 23"><path d="M2 7L7.75 2L13.5 7M2 16L7.75 21L13.5 16" fill="none" stroke="#f0f0f0" stroke-width="1.2"/></svg>
<div class="a" style="left:385px;top:911px;width:65px;height:25px;background:#717671;"></div>
<div class="c" style="left:391px;top:911px;width:34px;height:25px;font-size:15.5px;color:#e8e8e8;font-weight:normal;justify-content:flex-start;">10</div>
<svg class="a" style="left:428.25px;top:912.0px;" width="15.50" height="23.00" viewBox="0 0 15.5 23"><path d="M2 7L7.75 2L13.5 7M2 16L7.75 21L13.5 16" fill="none" stroke="#f0f0f0" stroke-width="1.2"/></svg>
<div class="a" style="left:35px;top:938px;width:25px;height:25px;background:#4a4539;"></div>
<div class="c" style="left:35px;top:938px;width:25px;height:21px;font-size:14px;color:#e0e0e0;font-weight:normal;justify-content:center;">9</div>
<div class="a" style="left:62px;top:938px;width:120px;height:25px;background:#717671;"></div>
<div class="c" style="left:77px;top:938px;width:83px;height:25px;font-size:14.5px;color:#e8e8e8;font-weight:normal;justify-content:flex-start;letter-spacing:-0.35px">Select</div>
<svg class="a" style="left:154.0px;top:945.0px;" width="18.00" height="11.00" viewBox="0 0 18 11.0"><path d="M2 2L9.0 9.0L16 2" fill="none" stroke="#f0f0f0" stroke-width="1.4"/></svg>
<div class="a" style="left:184px;top:938px;width:65px;height:25px;background:#717671;"></div>
<div class="c" style="left:190px;top:938px;width:34px;height:25px;font-size:15.5px;color:#e8e8e8;font-weight:normal;justify-content:flex-start;">10</div>
<svg class="a" style="left:227.25px;top:939.0px;" width="15.50" height="23.00" viewBox="0 0 15.5 23"><path d="M2 7L7.75 2L13.5 7M2 16L7.75 21L13.5 16" fill="none" stroke="#f0f0f0" stroke-width="1.2"/></svg>
<div class="a" style="left:251px;top:938px;width:65px;height:25px;background:#717671;"></div>
<div class="c" style="left:257px;top:938px;width:34px;height:25px;font-size:15.5px;color:#e8e8e8;font-weight:normal;justify-content:flex-start;">10</div>
<svg class="a" style="left:294.25px;top:939.0px;" width="15.50" height="23.00" viewBox="0 0 15.5 23"><path d="M2 7L7.75 2L13.5 7M2 16L7.75 21L13.5 16" fill="none" stroke="#f0f0f0" stroke-width="1.2"/></svg>
<div class="a" style="left:318px;top:938px;width:65px;height:25px;background:#717671;"></div>
<div class="c" style="left:324px;top:938px;width:34px;height:25px;font-size:15.5px;color:#e8e8e8;font-weight:normal;justify-content:flex-start;">10</div>
<svg class="a" style="left:361.25px;top:939.0px;" width="15.50" height="23.00" viewBox="0 0 15.5 23"><path d="M2 7L7.75 2L13.5 7M2 16L7.75 21L13.5 16" fill="none" stroke="#f0f0f0" stroke-width="1.2"/></svg>
<div class="a" style="left:385px;top:938px;width:65px;height:25px;background:#717671;"></div>
<div class="c" style="left:391px;top:938px;width:34px;height:25px;font-size:15.5px;color:#e8e8e8;font-weight:normal;justify-content:flex-start;">10</div>
<svg class="a" style="left:428.25px;top:939.0px;" width="15.50" height="23.00" viewBox="0 0 15.5 23"><path d="M2 7L7.75 2L13.5 7M2 16L7.75 21L13.5 16" fill="none" stroke="#f0f0f0" stroke-width="1.2"/></svg>
<div class="a" style="left:35px;top:965px;width:25px;height:25px;background:#3a3a37;"></div>
<div class="c" style="left:35px;top:965px;width:25px;height:21px;font-size:14px;color:#e0e0e0;font-weight:normal;justify-content:center;">10</div>
<div class="a" style="left:62px;top:965px;width:120px;height:25px;background:#717671;"></div>
<div class="c" style="left:77px;top:965px;width:83px;height:25px;font-size:14.5px;color:#e8e8e8;font-weight:normal;justify-content:flex-start;letter-spacing:-0.35px">Select</div>
<svg class="a" style="left:154.0px;top:972.0px;" width="18.00" height="11.00" viewBox="0 0 18 11.0"><path d="M2 2L9.0 9.0L16 2" fill="none" stroke="#f0f0f0" stroke-width="1.4"/></svg>
<div class="a" style="left:184px;top:965px;width:65px;height:25px;background:#717671;"></div>
<div class="c" style="left:190px;top:965px;width:34px;height:25px;font-size:15.5px;color:#e8e8e8;font-weight:normal;justify-content:flex-start;">10</div>
<svg class="a" style="left:227.25px;top:966.0px;" width="15.50" height="23.00" viewBox="0 0 15.5 23"><path d="M2 7L7.75 2L13.5 7M2 16L7.75 21L13.5 16" fill="none" stroke="#f0f0f0" stroke-width="1.2"/></svg>
<div class="a" style="left:251px;top:965px;width:65px;height:25px;background:#717671;"></div>
<div class="c" style="left:257px;top:965px;width:34px;height:25px;font-size:15.5px;color:#e8e8e8;font-weight:normal;justify-content:flex-start;">10</div>
<svg class="a" style="left:294.25px;top:966.0px;" width="15.50" height="23.00" viewBox="0 0 15.5 23"><path d="M2 7L7.75 2L13.5 7M2 16L7.75 21L13.5 16" fill="none" stroke="#f0f0f0" stroke-width="1.2"/></svg>
<div class="a" style="left:318px;top:965px;width:65px;height:25px;background:#717671;"></div>
<div class="c" style="left:324px;top:965px;width:34px;height:25px;font-size:15.5px;color:#e8e8e8;font-weight:normal;justify-content:flex-start;">10</div>
<svg class="a" style="left:361.25px;top:966.0px;" width="15.50" height="23.00" viewBox="0 0 15.5 23"><path d="M2 7L7.75 2L13.5 7M2 16L7.75 21L13.5 16" fill="none" stroke="#f0f0f0" stroke-width="1.2"/></svg>
<div class="a" style="left:385px;top:965px;width:65px;height:25px;background:#717671;"></div>
<div class="c" style="left:391px;top:965px;width:34px;height:25px;font-size:15.5px;color:#e8e8e8;font-weight:normal;justify-content:flex-start;">10</div>
<svg class="a" style="left:428.25px;top:966.0px;" width="15.50" height="23.00" viewBox="0 0 15.5 23"><path d="M2 7L7.75 2L13.5 7M2 16L7.75 21L13.5 16" fill="none" stroke="#f0f0f0" stroke-width="1.2"/></svg>
<div class="a" style="left:35px;top:992px;width:25px;height:25px;background:#4a4539;"></div>
<div class="c" style="left:35px;top:992px;width:25px;height:21px;font-size:14px;color:#e0e0e0;font-weight:normal;justify-content:center;">11</div>
<div class="a" style="left:62px;top:992px;width:120px;height:25px;background:#717671;"></div>
<div class="c" style="left:77px;top:992px;width:83px;height:25px;font-size:14.5px;color:#e8e8e8;font-weight:normal;justify-content:flex-start;letter-spacing:-0.35px">Select</div>
<svg class="a" style="left:154.0px;top:999.0px;" width="18.00" height="11.00" viewBox="0 0 18 11.0"><path d="M2 2L9.0 9.0L16 2" fill="none" stroke="#f0f0f0" stroke-width="1.4"/></svg>
<div class="a" style="left:184px;top:992px;width:65px;height:25px;background:#717671;"></div>
<div class="c" style="left:190px;top:992px;width:34px;height:25px;font-size:15.5px;color:#e8e8e8;font-weight:normal;justify-content:flex-start;">10</div>
<svg class="a" style="left:227.25px;top:993.0px;" width="15.50" height="23.00" viewBox="0 0 15.5 23"><path d="M2 7L7.75 2L13.5 7M2 16L7.75 21L13.5 16" fill="none" stroke="#f0f0f0" stroke-width="1.2"/></svg>
<div class="a" style="left:251px;top:992px;width:65px;height:25px;background:#717671;"></div>
<div class="c" style="left:257px;top:992px;width:34px;height:25px;font-size:15.5px;color:#e8e8e8;font-weight:normal;justify-content:flex-start;">10</div>
<svg class="a" style="left:294.25px;top:993.0px;" width="15.50" height="23.00" viewBox="0 0 15.5 23"><path d="M2 7L7.75 2L13.5 7M2 16L7.75 21L13.5 16" fill="none" stroke="#f0f0f0" stroke-width="1.2"/></svg>
<div class="a" style="left:318px;top:992px;width:65px;height:25px;background:#717671;"></div>
<div class="c" style="left:324px;top:992px;width:34px;height:25px;font-size:15.5px;color:#e8e8e8;font-weight:normal;justify-content:flex-start;">10</div>
<svg class="a" style="left:361.25px;top:993.0px;" width="15.50" height="23.00" viewBox="0 0 15.5 23"><path d="M2 7L7.75 2L13.5 7M2 16L7.75 21L13.5 16" fill="none" stroke="#f0f0f0" stroke-width="1.2"/></svg>
<div class="a" style="left:385px;top:992px;width:65px;height:25px;background:#717671;"></div>
<div class="c" style="left:391px;top:992px;width:34px;height:25px;font-size:15.5px;color:#e8e8e8;font-weight:normal;justify-content:flex-start;">10</div>
<svg class="a" style="left:428.25px;top:993.0px;" width="15.50" height="23.00" viewBox="0 0 15.5 23"><path d="M2 7L7.75 2L13.5 7M2 16L7.75 21L13.5 16" fill="none" stroke="#f0f0f0" stroke-width="1.2"/></svg>
<div class="a" style="left:35px;top:1019px;width:25px;height:25px;background:#3a3a37;"></div>
<div class="c" style="left:35px;top:1019px;width:25px;height:21px;font-size:14px;color:#e0e0e0;font-weight:normal;justify-content:center;">12</div>
<div class="a" style="left:62px;top:1019px;width:120px;height:25px;background:#717671;"></div>
<div class="c" style="left:77px;top:1019px;width:83px;height:25px;font-size:14.5px;color:#e8e8e8;font-weight:normal;justify-content:flex-start;letter-spacing:-0.35px">Select</div>
<svg class="a" style="left:154.0px;top:1026.0px;" width="18.00" height="11.00" viewBox="0 0 18 11.0"><path d="M2 2L9.0 9.0L16 2" fill="none" stroke="#f0f0f0" stroke-width="1.4"/></svg>
<div class="a" style="left:184px;top:1019px;width:65px;height:25px;background:#717671;"></div>
<div class="c" style="left:190px;top:1019px;width:34px;height:25px;font-size:15.5px;color:#e8e8e8;font-weight:normal;justify-content:flex-start;">10</div>
<svg class="a" style="left:227.25px;top:1020.0px;" width="15.50" height="23.00" viewBox="0 0 15.5 23"><path d="M2 7L7.75 2L13.5 7M2 16L7.75 21L13.5 16" fill="none" stroke="#f0f0f0" stroke-width="1.2"/></svg>
<div class="a" style="left:251px;top:1019px;width:65px;height:25px;background:#717671;"></div>
<div class="c" style="left:257px;top:1019px;width:34px;height:25px;font-size:15.5px;color:#e8e8e8;font-weight:normal;justify-content:flex-start;">10</div>
<svg class="a" style="left:294.25px;top:1020.0px;" width="15.50" height="23.00" viewBox="0 0 15.5 23"><path d="M2 7L7.75 2L13.5 7M2 16L7.75 21L13.5 16" fill="none" stroke="#f0f0f0" stroke-width="1.2"/></svg>
<div class="a" style="left:318px;top:1019px;width:65px;height:25px;background:#717671;"></div>
<div class="c" style="left:324px;top:1019px;width:34px;height:25px;font-size:15.5px;color:#e8e8e8;font-weight:normal;justify-content:flex-start;">10</div>
<svg class="a" style="left:361.25px;top:1020.0px;" width="15.50" height="23.00" viewBox="0 0 15.5 23"><path d="M2 7L7.75 2L13.5 7M2 16L7.75 21L13.5 16" fill="none" stroke="#f0f0f0" stroke-width="1.2"/></svg>
<div class="a" style="left:385px;top:1019px;width:65px;height:25px;background:#717671;"></div>
<div class="c" style="left:391px;top:1019px;width:34px;height:25px;font-size:15.5px;color:#e8e8e8;font-weight:normal;justify-content:flex-start;">10</div>
<svg class="a" style="left:428.25px;top:1020.0px;" width="15.50" height="23.00" viewBox="0 0 15.5 23"><path d="M2 7L7.75 2L13.5 7M2 16L7.75 21L13.5 16" fill="none" stroke="#f0f0f0" stroke-width="1.2"/></svg>
<div class="c" style="left:462px;top:684px;width:76px;height:24px;font-size:16px;color:#d4d4d4;font-weight:normal;justify-content:center;padding-right:10px">Report</div>
<div class="a" style="left:469px;top:728px;font-size:10px;line-height:12px;font-weight:bold;color:#f0f0f0;letter-spacing:-0.15px">6db Opening<br>angle with<br>zero delay:</div>
<div class="a" style="left:472px;top:770px;width:55px;height:30px;background:#717671;"></div>
<div class="c" style="left:472px;top:770px;width:55px;height:30px;font-size:17px;color:#e8e8e8;font-weight:normal;justify-content:center;">9.44</div>
<div class="a" style="left:469px;top:846px;font-size:10px;line-height:12px;font-weight:bold;color:#f0f0f0;letter-spacing:-0.15px">6db Opening<br>angle with<br>delay:</div>
<div class="a" style="left:472px;top:889px;width:55px;height:30px;background:#717671;"></div>
<div class="c" style="left:472px;top:889px;width:55px;height:30px;font-size:17px;color:#e8e8e8;font-weight:normal;justify-content:center;">9.44</div>
<div class="a" style="left:469px;top:973px;font-size:10px;line-height:12px;font-weight:bold;color:#f0f0f0;letter-spacing:-0.15px">Expected on<br>axis SPL loss<br>with delay:</div>
<div class="a" style="left:472px;top:1014px;width:55px;height:30px;background:#717671;"></div>
<div class="c" style="left:472px;top:1014px;width:55px;height:30px;font-size:17px;color:#e8e8e8;font-weight:normal;justify-content:center;">9.44</div>
<div class="c" style="left:562px;top:400px;width:138px;height:24px;font-size:16px;color:#d4d4d4;font-weight:normal;justify-content:flex-start;letter-spacing:-0.4px">ISO View</div>
<svg class="a" style="left:836px;top:398px;" width="28.00" height="32.00" viewBox="0 0 28 32"><g fill="none" stroke="#a9a9a9" stroke-width="1.4"><path d="M5 16A9 9 0 0 1 19.5 8.2"/><path d="M15.5 4.5L20 8L16 11.5"/><path d="M23 15A9 9 0 0 1 8.5 23.3"/><path d="M12.5 27L8 23.5L12 20"/></g></svg>
<svg class="a" style="left:0;top:0" width="1920" height="1080" viewBox="0 0 1920 1080"><polygon points="816.1,538.9 821.4,534.8 819.2,611.3 812.9,617.0" fill="#cccc00"/><polygon points="767.3,538.9 816.1,538.9 812.9,617.0 767.3,614.5" fill="#ffff00"/><polygon points="767.3,538.9 776.7,534.2 821.4,534.8 816.1,538.9" fill="#999900" stroke="#e6e600" stroke-width="0.6"/><polygon points="800.3,550.9 807.2,546.4 804.4,627.1 797.2,637.1" fill="#cccc00"/><polygon points="747.1,550.9 800.3,550.9 797.2,637.1 747.1,633.4" fill="#ffff00"/><polygon points="747.1,550.9 757.8,544.6 807.2,546.4 800.3,550.9" fill="#999900" stroke="#e6e600" stroke-width="0.6"/><polygon points="781.4,565.0 790.2,560.0 787.7,650.7 776.7,664.2" fill="#cccc00"/><polygon points="721.0,564.1 781.4,565.0 776.7,664.2 721.0,658.5" fill="#ffff00"/><polygon points="721.0,564.1 734.2,557.2 790.2,560.0 781.4,565.0" fill="#999900" stroke="#e6e600" stroke-width="0.6"/><polygon points="754.7,584.5 767.9,577.3 765.1,686.9 751.5,699.5" fill="#cccc00"/><polygon points="686.3,583.0 754.7,584.5 751.5,699.5 686.3,693.2" fill="#ffff00"/><polygon points="686.3,583.0 704.3,573.5 767.9,577.3 754.7,584.5" fill="#999900" stroke="#e6e600" stroke-width="0.6"/><polygon points="721.6,610.7 737.3,599.3 735.1,734.1 715.3,748.3" fill="#cccc00"/><polygon points="638.8,609.1 721.6,610.7 715.3,748.3 638.8,740.4" fill="#ffff00"/><polygon points="638.8,609.1 661.8,595.6 737.3,599.3 721.6,610.7" fill="#999900" stroke="#e6e600" stroke-width="0.6"/><polygon points="667.1,652.9 693.3,633.4 690.7,787.6 662.7,822.9" fill="#cccc00"/><polygon points="567.3,647.5 667.1,652.9 662.7,822.9 567.3,808.1" fill="#ffff00"/><polygon points="567.3,647.5 603.5,628.0 693.3,633.4 667.1,652.9" fill="#999900" stroke="#e6e600" stroke-width="0.6"/><line x1="667.1" y1="737.3" x2="690.7" y2="711.4" stroke="#e8e800" stroke-width="0.8"/><line x1="716.2" y1="679.0" x2="735.1" y2="663.3" stroke="#e8e800" stroke-width="0.8"/><line x1="752.1" y1="642.8" x2="765.1" y2="630.2" stroke="#e8e800" stroke-width="0.8"/><line x1="777.3" y1="611.3" x2="787.7" y2="602.5" stroke="#e8e800" stroke-width="0.8"/><line x1="797.8" y1="592.4" x2="804.4" y2="586.1" stroke="#e8e800" stroke-width="0.8"/><line x1="813.5" y1="579.8" x2="819.2" y2="574.2" stroke="#e8e800" stroke-width="0.8"/><g stroke="#7e837e" stroke-width="1.4" fill="none" stroke-linecap="round"><line x1="689.9" y1="839.6" x2="850.2" y2="619.4"/><path d="M843.1 621.3L850.2 619.4L851.2 626.9M843.1 612.5L858.8 624.3"/><path d="M688.75 833.1L689.9 839.6L696.9 838.9M681.6 833.6L696.6 845.2"/></g><circle cx="773.5" cy="675.5" r="4" fill="#fff"/></svg>
<div class="c" style="left:760px;top:756px;width:70px;height:26px;font-size:17px;color:#858a85;font-weight:normal;justify-content:flex-start;padding-left:12px">Span</div>
<div class="a" style="left:895px;top:212px;width:990px;height:2px;background:#2e302d;"></div>
<div class="a" style="left:910px;top:171px;width:73px;height:30px;background:#4a453a;"></div>
<div class="c" style="left:910px;top:171px;width:73px;height:30px;font-size:16px;color:#f4f4f4;font-weight:normal;justify-content:center;">Freq 01</div>
<div class="a" style="left:983px;top:171px;width:123px;height:30px;background:none;border:2px solid #e4e4e4"></div>
<div class="c" style="left:996px;top:171px;width:90px;height:30px;font-size:16px;color:#d8d8d8;font-weight:normal;justify-content:flex-start;letter-spacing:-0.3px">Select</div>
<svg class="a" style="left:1078.0px;top:181.0px;" width="16.00" height="10.00" viewBox="0 0 16 10.0"><path d="M2 2L8.0 8.0L14 2" fill="none" stroke="#e0e0e0" stroke-width="1.3"/></svg>
<div class="a" style="left:1113px;top:171px;width:73px;height:30px;background:#4a453a;"></div>
<div class="c" style="left:1113px;top:171px;width:73px;height:30px;font-size:16px;color:#f4f4f4;font-weight:normal;justify-content:center;">Freq 02</div>
<div class="a" style="left:1186px;top:171px;width:123px;height:30px;background:none;border:2px solid #e4e4e4"></div>
<div class="c" style="left:1199px;top:171px;width:90px;height:30px;font-size:16px;color:#d8d8d8;font-weight:normal;justify-content:flex-start;letter-spacing:-0.3px">Select</div>
<svg class="a" style="left:1281.0px;top:181.0px;" width="16.00" height="10.00" viewBox="0 0 16 10.0"><path d="M2 2L8.0 8.0L14 2" fill="none" stroke="#e0e0e0" stroke-width="1.3"/></svg>
<div class="a" style="left:1316px;top:171px;width:73px;height:30px;background:#4a453a;"></div>
<div class="c" style="left:1316px;top:171px;width:73px;height:30px;font-size:16px;color:#f4f4f4;font-weight:normal;justify-content:center;">Weight</div>
<div class="a" style="left:1389px;top:171px;width:112px;height:30px;background:none;border:2px solid #e4e4e4"></div>
<div class="c" style="left:1399px;top:171px;width:82px;height:30px;font-size:16px;color:#d8d8d8;font-weight:normal;justify-content:flex-start;letter-spacing:-0.3px">Options</div>
<svg class="a" style="left:1475.5px;top:181.0px;" width="16.00" height="10.00" viewBox="0 0 16 10.0"><path d="M2 2L8.0 8.0L14 2" fill="none" stroke="#e0e0e0" stroke-width="1.3"/></svg>
<div class="a" style="left:1519px;top:170px;width:2px;height:33px;background:#2e302d;"></div>
<div class="a" style="left:1539px;top:163px;width:55px;height:16px;background:#8c6d4c;"></div>
<div class="c" style="left:1539px;top:163px;width:55px;height:16px;font-size:12.5px;color:#f4f4f4;font-weight:normal;justify-content:center;">Metric</div>
<div class="a" style="left:1596px;top:163px;width:55px;height:16px;background:#b5b5b5;"></div>
<div class="c" style="left:1596px;top:163px;width:55px;height:16px;font-size:12.5px;color:#6a6a6a;font-weight:normal;justify-content:center;">Imperial</div>
<div class="a" style="left:1539px;top:181px;width:36px;height:20px;background:#717671;"></div>
<div class="c" style="left:1539px;top:181px;width:36px;height:20px;font-size:12.5px;color:#d8d8d8;font-weight:normal;justify-content:center;letter-spacing:-0.3px">XX.X</div>
<div class="a" style="left:1577px;top:181px;width:36px;height:20px;background:#717671;"></div>
<div class="c" style="left:1577px;top:181px;width:36px;height:20px;font-size:12.5px;color:#d8d8d8;font-weight:normal;justify-content:center;letter-spacing:-0.3px">XX.X</div>
<div class="a" style="left:1615px;top:181px;width:36px;height:20px;background:#717671;"></div>
<div class="c" style="left:1615px;top:181px;width:36px;height:20px;font-size:12.5px;color:#d8d8d8;font-weight:normal;justify-content:center;letter-spacing:-0.3px">XX.X</div>
<div class="a" style="left:1669px;top:170px;width:2px;height:33px;background:#2e302d;"></div>
<svg class="a" style="left:1686px;top:175px;" width="22.00" height="22.00" viewBox="0 0 22 22"><g fill="none" stroke="#a8a8a8" stroke-width="1.2"><path d="M13 3L2.5 19.5H20"/><path d="M10.5 11.5A8 8 0 0 1 14.5 19.5"/><circle cx="17.5" cy="12" r="1"/></g></svg>
<svg class="a" style="left:1722px;top:174px;" width="27.00" height="25.00" viewBox="0 0 27 25"><g fill="none" stroke="#a8a8a8" stroke-width="1.3"><path d="M7 21.5A10.5 10.5 0 1 1 19.5 21.5"/><path d="M13.2 3V6.5M4 12.5L6.5 13M22.5 12.5L20 13M7 21.5L9 18.5M19.5 21.5L17.5 18.5"/></g></svg>
<div class="a" style="left:1766px;top:170px;width:2px;height:33px;background:#2e302d;"></div>
<div class="a" style="left:1785px;top:169px;width:32px;height:32px;background:#8c6d4c;border-radius:4px;box-shadow:1px 2px 3px rgba(0,0,0,0.45)"></div>
<svg class="a" style="left:1785px;top:169px;" width="32.00" height="32.00" viewBox="0 0 32 32"><g fill="none" stroke="#fff" stroke-width="1.5"><path d="M6 23.5H24.5V5"/><path d="M11 20A7 7 0 0 1 18 13"/></g></svg>
<svg class="a" style="left:1842px;top:173px;" width="28.00" height="25.00" viewBox="0 0 28 25"><g fill="none" stroke="#bdbdbd" stroke-width="1.5"><path d="M13.5 1.5V14.5L2.5 21M13.5 14.5L25.5 21"/></g></svg>
<div class="c" style="left:916px;top:230px;width:200px;height:31px;font-size:18.5px;color:#8e724d;font-weight:bold;justify-content:center;letter-spacing:-0.2px;padding-top:1px">Cross Section</div>
<div class="c" style="left:1130.6px;top:230px;width:200.0px;height:31px;font-size:23px;color:#f4f4f4;font-weight:normal;justify-content:center;letter-spacing:-0.2px">Distribution</div>
<div class="c" style="left:1301px;top:230px;width:200px;height:31px;font-size:23px;color:#f4f4f4;font-weight:normal;justify-content:center;letter-spacing:-0.2px">SPL</div>
<div class="c" style="left:1477px;top:230px;width:200px;height:31px;font-size:23px;color:#f4f4f4;font-weight:normal;justify-content:center;letter-spacing:-0.2px">Optimisation</div>
<div class="c" style="left:1692px;top:230px;width:200px;height:31px;font-size:23px;color:#f4f4f4;font-weight:normal;justify-content:center;letter-spacing:-0.2px">Vertical SPL</div>
<div class="a" style="left:1132px;top:230px;width:2px;height:31px;background:#f4f4f4;"></div>
<div class="a" style="left:1336px;top:230px;width:2px;height:31px;background:#f4f4f4;"></div>
<div class="a" style="left:1480px;top:230px;width:2px;height:31px;background:#f4f4f4;"></div>
<div class="a" style="left:1691px;top:230px;width:2px;height:31px;background:#f4f4f4;"></div>
<div class="c" style="left:922px;top:631px;width:200px;height:31px;font-size:22.2px;color:#f4f4f4;font-weight:normal;justify-content:center;letter-spacing:-0.2px">Cross Section</div>
<div class="c" style="left:1134px;top:631px;width:200px;height:31px;font-size:18.5px;color:#8e724d;font-weight:bold;justify-content:center;letter-spacing:-0.2px;padding-top:1px">Distribution</div>
<div class="c" style="left:1306px;top:631px;width:200px;height:31px;font-size:23px;color:#f4f4f4;font-weight:normal;justify-content:center;letter-spacing:-0.2px">SPL</div>
<div class="c" style="left:1482px;top:631px;width:200px;height:31px;font-size:23px;color:#f4f4f4;font-weight:normal;justify-content:center;letter-spacing:-0.2px">Optimisation</div>
<div class="c" style="left:1697px;top:631px;width:200px;height:31px;font-size:23px;color:#f4f4f4;font-weight:normal;justify-content:center;letter-spacing:-0.2px">Vertical SPL</div>
<div class="a" style="left:1136px;top:631px;width:2px;height:31px;background:#f4f4f4;"></div>
<div class="a" style="left:1340px;top:631px;width:2px;height:31px;background:#f4f4f4;"></div>
<div class="a" style="left:1484px;top:631px;width:2px;height:31px;background:#f4f4f4;"></div>
<div class="a" style="left:1695px;top:631px;width:2px;height:31px;background:#f4f4f4;"></div>
<div class="a" style="left:895px;top:674px;width:990px;height:1px;background:#323330;"></div>
<svg class="a" style="left:0;top:0" width="1920" height="1080" viewBox="0 0 1920 1080"><g stroke="#6f736e" stroke-width="1.4"><line x1="1037" y1="282" x2="1037" y2="583"/><line x1="1115" y1="282" x2="1115" y2="583"/><line x1="1215" y1="282" x2="1215" y2="583"/><line x1="1315" y1="282" x2="1315" y2="583"/><line x1="1414.3" y1="282" x2="1414.3" y2="583"/><line x1="1514.5" y1="282" x2="1514.5" y2="583"/><line x1="1614.3" y1="282" x2="1614.3" y2="583"/><line x1="1704" y1="282" x2="1704" y2="583"/><line x1="936" y1="335.3" x2="1764" y2="335.3"/><line x1="936" y1="399.6" x2="1764" y2="399.6"/><line x1="936" y1="460.5" x2="1764" y2="460.5"/><line x1="936" y1="521" x2="1764" y2="521"/></g><rect x="936" y="282" width="828" height="301" fill="none" stroke="#7b7f7a" stroke-width="2"/><g stroke="#d6d6d6" stroke-width="1.4"><line x1="1001.5" y1="352.5" x2="1722.5" y2="310.8"/><line x1="1001.5" y1="360" x2="1568.6" y2="330.6"/><line x1="1001.5" y1="368.5" x2="1452.3" y2="366.9"/><line x1="1001.5" y1="375" x2="1452.3" y2="413.2"/><line x1="1001" y1="382.5" x2="1358.4" y2="444"/><line x1="999" y1="391.5" x2="1336.4" y2="483.2"/><line x1="996.5" y1="400" x2="1236.9" y2="493.6"/><line x1="993.5" y1="405.5" x2="1146.1" y2="501.4"/><line x1="989.5" y1="412" x2="1089.4" y2="501.4"/><line x1="985" y1="416.5" x2="1051.5" y2="501.4"/></g><polygon points="1001,349 1001.5,365 1001.5,380 1000,388 997.5,396 994,403 989,411 981,418.5 972.5,406.5 977,401 980.5,396 983.5,390 985.5,383 986.5,375 986.5,360 986,349" fill="#f2e41a"/><polygon points="985.4,350.9 985.4,352.3 999.5,350.5" fill="#3d3e33"/><polygon points="985.8,357.0 985.8,359.6 1000,357.5" fill="#3d3e33"/><polygon points="985.9,364.7 985.9,366.2 1000,365" fill="#3d3e33"/><polygon points="985.9,371.6 985.9,373.3 1000,372.5" fill="#3d3e33"/><polygon points="985.6999999999999,378.0 985.6999999999999,379.3 999.5,379.5" fill="#3d3e33"/><polygon points="984.6999999999999,384.5 984.6999999999999,386 999,388" fill="#3d3e33"/><polygon points="983.1999999999999,390 983.1999999999999,391.5 997.5,394.5" fill="#3d3e33"/><polygon points="980.1999999999999,396 980.1999999999999,397.5 995,400.5" fill="#3d3e33"/><polygon points="976.6999999999999,401.3 976.6999999999999,402.8 992,406" fill="#3d3e33"/><polygon points="973.1999999999999,405.5 973.1999999999999,407 988,411" fill="#3d3e33"/><line x1="1425.4" y1="415.8" x2="1693.7" y2="336.4" stroke="#1d78c5" stroke-width="3"/><line x1="1425.4" y1="468.3" x2="1693.7" y2="388.9" stroke="#fafafa" stroke-width="3"/><polyline points="995.5,537.3 1297,537.3 1297,518 1517.7,518 1517.7,504 1660.3,504" fill="none" stroke="#d42228" stroke-width="3"/><polyline points="995.5,583.2 1298,583.2 1298,564.2 1517.7,564.2 1517.7,549.6 1664.5,549.6" fill="none" stroke="#fafafa" stroke-width="2.6"/><g stroke="#6f736e" stroke-width="1.4"><line x1="938" y1="729.5" x2="1765" y2="729.5"/><line x1="938" y1="759.5" x2="1765" y2="759.5"/><line x1="938" y1="789.5" x2="1765" y2="789.5"/><line x1="938" y1="819.5" x2="1765" y2="819.5"/><line x1="938" y1="849.5" x2="1765" y2="849.5"/><line x1="938" y1="879.5" x2="1765" y2="879.5"/><line x1="938" y1="909.5" x2="1765" y2="909.5"/><line x1="938" y1="939.5" x2="1765" y2="939.5"/><line x1="938" y1="969.5" x2="1765" y2="969.5"/></g><rect x="938" y="692.5" width="827" height="300.5" fill="none" stroke="#7b7f7a" stroke-width="2"/><rect x="1338" y="983" width="9" height="9" fill="#d42228"/></svg>
<div class="c" style="left:900px;top:324.6px;width:27px;height:24.0px;font-size:17.5px;color:#e8e8e8;font-weight:normal;justify-content:flex-end;">2</div>
<div class="c" style="left:900px;top:387.6px;width:27px;height:24.0px;font-size:17.5px;color:#e8e8e8;font-weight:normal;justify-content:flex-end;">1</div>
<div class="c" style="left:900px;top:449px;width:27px;height:24px;font-size:17.5px;color:#e8e8e8;font-weight:normal;justify-content:flex-end;">1</div>
<div class="c" style="left:900px;top:509px;width:27px;height:24px;font-size:17.5px;color:#e8e8e8;font-weight:normal;justify-content:flex-end;">6</div>
<div class="c" style="left:1016px;top:586px;width:40px;height:22px;font-size:14px;color:#d4d4d4;font-weight:normal;justify-content:center;">-7</div>
<div class="c" style="left:1092px;top:586px;width:40px;height:22px;font-size:14px;color:#d4d4d4;font-weight:normal;justify-content:center;">7</div>
<div class="c" style="left:1196px;top:586px;width:40px;height:22px;font-size:14px;color:#d4d4d4;font-weight:normal;justify-content:center;">20</div>
<div class="c" style="left:1292px;top:586px;width:40px;height:22px;font-size:14px;color:#d4d4d4;font-weight:normal;justify-content:center;">33</div>
<div class="c" style="left:1390px;top:586px;width:40px;height:22px;font-size:14px;color:#d4d4d4;font-weight:normal;justify-content:center;">46</div>
<div class="c" style="left:1492px;top:586px;width:40px;height:22px;font-size:14px;color:#d4d4d4;font-weight:normal;justify-content:center;">59</div>
<div class="c" style="left:1593px;top:586px;width:40px;height:22px;font-size:14px;color:#d4d4d4;font-weight:normal;justify-content:center;">72</div>
<div class="c" style="left:1681px;top:586px;width:40px;height:22px;font-size:14px;color:#d4d4d4;font-weight:normal;justify-content:center;">85</div>
<div class="c" style="left:895px;top:689px;width:38px;height:20px;font-size:14.5px;color:#d8d8d8;font-weight:normal;justify-content:flex-end;">20</div>
<div class="c" style="left:895px;top:718.5px;width:38px;height:20.0px;font-size:14.5px;color:#d8d8d8;font-weight:normal;justify-content:flex-end;">18</div>
<div class="c" style="left:895px;top:747px;width:38px;height:20px;font-size:14.5px;color:#d8d8d8;font-weight:normal;justify-content:flex-end;">16</div>
<div class="c" style="left:895px;top:776.5px;width:38px;height:20.0px;font-size:14.5px;color:#d8d8d8;font-weight:normal;justify-content:flex-end;">14</div>
<div class="c" style="left:895px;top:806px;width:38px;height:20px;font-size:14.5px;color:#d8d8d8;font-weight:normal;justify-content:flex-end;">12</div>
<div class="c" style="left:895px;top:836px;width:38px;height:20px;font-size:14.5px;color:#d8d8d8;font-weight:normal;justify-content:flex-end;">10</div>
<div class="c" style="left:895px;top:865.5px;width:38px;height:20.0px;font-size:14.5px;color:#d8d8d8;font-weight:normal;justify-content:flex-end;">8</div>
<div class="c" style="left:895px;top:895px;width:38px;height:20px;font-size:14.5px;color:#d8d8d8;font-weight:normal;justify-content:flex-end;">6</div>
<div class="c" style="left:895px;top:924.5px;width:38px;height:20.0px;font-size:14.5px;color:#d8d8d8;font-weight:normal;justify-content:flex-end;">4</div>
<div class="c" style="left:895px;top:954px;width:38px;height:20px;font-size:14.5px;color:#d8d8d8;font-weight:normal;justify-content:flex-end;">2</div>
<div class="c" style="left:895px;top:983px;width:38px;height:20px;font-size:14.5px;color:#d8d8d8;font-weight:normal;justify-content:flex-end;">0</div>
<div class="c" style="left:1331px;top:998px;width:20px;height:22px;font-size:14.5px;color:#d8d8d8;font-weight:normal;justify-content:center;">1</div>
<div class="a" style="left:1770px;top:281px;width:100px;height:25px;background:#594c3e;"></div>
<div class="c" style="left:1770px;top:281px;width:100px;height:25px;font-size:14px;color:#f4f4f4;font-weight:normal;justify-content:center;letter-spacing:-0.2px"># Guide Marks</div>
<div class="a" style="left:1770px;top:308px;width:100px;height:25px;background:none;border:1px solid #dcdcdc"></div>
<div class="a" style="left:1770px;top:355px;width:100px;height:25px;background:#594c3e;"></div>
<div class="c" style="left:1770px;top:355px;width:100px;height:25px;font-size:13.5px;color:#f4f4f4;font-weight:normal;justify-content:center;letter-spacing:-0.3px">Dist. btw GMS:</div>
<div class="a" style="left:1770px;top:382px;width:100px;height:25px;background:none;border:1px solid #dcdcdc"></div>
<div class="a" style="left:1770px;top:430px;width:100px;height:25px;background:#594c3e;"></div>
<div class="c" style="left:1777px;top:430px;width:68px;height:25px;font-size:13.5px;color:#f4f4f4;font-weight:normal;justify-content:flex-start;letter-spacing:-0.3px">Opt Mirror</div>
<div class="a" style="left:1848px;top:433px;width:19px;height:19px;background:#fafafa;border-radius:2px"></div>
<div class="a" style="left:1770px;top:479px;width:100px;height:24px;background:#fafafa;border-radius:7px"></div>
<div class="c" style="left:1770px;top:479px;width:100px;height:24px;font-size:12px;color:#a8916f;font-weight:normal;justify-content:center;letter-spacing:-0.2px">RESET</div>
<div class="a" style="left:1775px;top:691px;width:100px;height:25px;background:#594c3e;"></div>
<div class="c" style="left:1775px;top:691px;width:100px;height:25px;font-size:12.2px;color:#f4f4f4;font-weight:normal;justify-content:center;letter-spacing:-0.3px">Distribution Factor</div>
<div class="a" style="left:1775px;top:718px;width:100px;height:25px;background:#cfcfcf;"></div>
<div class="c" style="left:1775px;top:718px;width:100px;height:25px;font-size:17px;color:#8a8a8a;font-weight:normal;justify-content:center;">0</div>
<svg class="a" style="left:1854.75px;top:720.4499999999999px;" width="11.50" height="20.70" viewBox="0 0 11.5 20.700000000000003"><path d="M2 6.2L5.75 2L9.5 6.2M2 14.5L5.75 18.700000000000003L9.5 14.5" fill="none" stroke="#7a7a7a" stroke-width="1.2"/></svg>
<div class="a" style="left:1775px;top:745px;width:100px;height:25px;background:none;border:1.5px solid #e4e4e4"></div>
</body></html>
